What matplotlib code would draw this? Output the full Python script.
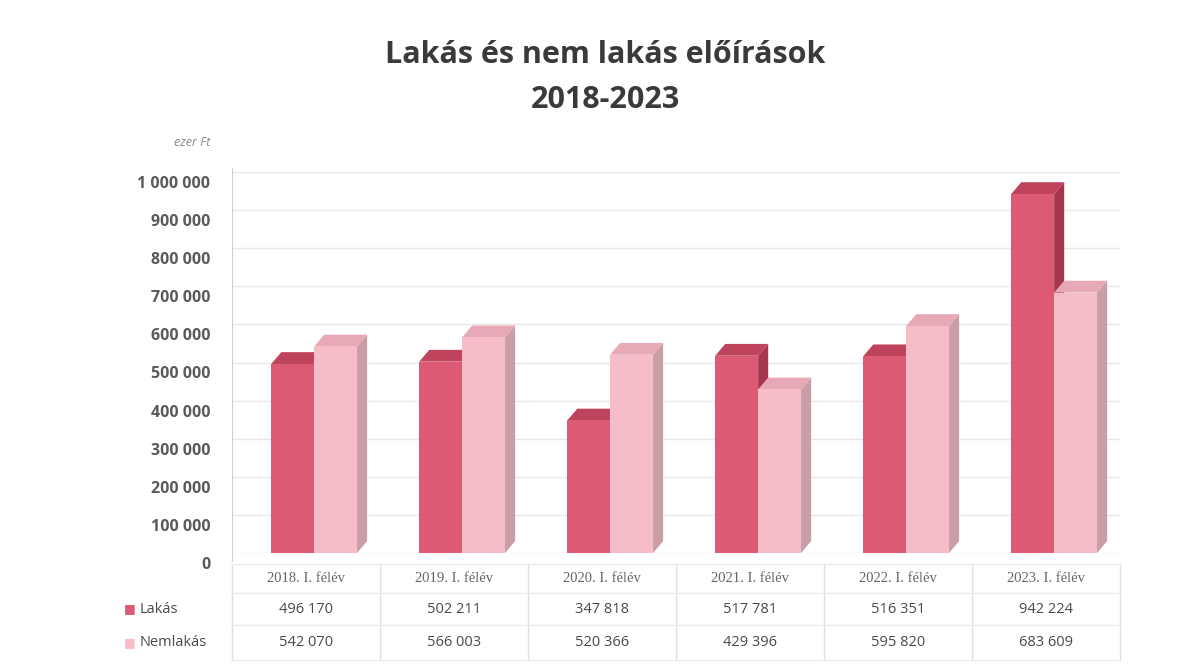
import matplotlib
matplotlib.use("Agg")
import matplotlib.pyplot as plt
import matplotlib.transforms as mtransforms
from matplotlib.patches import Polygon
import numpy as np

plt.rcParams['font.family'] = ['Open Sans', 'DejaVu Sans']

categories = ['2018. I. félév', '2019. I. félév', '2020. I. félév',
              '2021. I. félév', '2022. I. félév', '2023. I. félév']
lakas = [496170, 502211, 347818, 517781, 516351, 942224]
nemlakas = [542070, 566003, 520366, 429396, 595820, 683609]
series_names = ['Lakás', 'Nemlakás']
yticks = np.arange(0, 1000001, 100000)

# colours: front, top, side
col_lakas = ('#dc5a74', '#c0435e', '#a6354e')
col_nem = ('#f6bdc9', '#e8a9b6', '#c99ea7')

fig = plt.figure(figsize=(11.92, 6.68), dpi=100)
ax = fig.add_axes([232/1192, (668-553)/668, 888/1192, 381/668])

x = np.arange(len(categories))
w = 0.29
dx = 0.068      # fake depth in category units
dy = 31000      # fake depth in value units


def bar3d(xl, h, cols, z):
    xr = xl + w
    ax.add_patch(Polygon([(xr, 0), (xr+dx, dy), (xr+dx, h+dy), (xr, h)],
                         closed=True, fc=cols[2], ec='none', zorder=z, clip_on=False))
    ax.add_patch(Polygon([(xl, h), (xr, h), (xr+dx, h+dy), (xl+dx, h+dy)],
                         closed=True, fc=cols[1], ec='none', zorder=z, clip_on=False))
    ax.bar(xl, h, width=w, align='edge', color=cols[0], zorder=z+0.5, clip_on=False)


for i in range(len(categories)):
    bar3d(x[i] - 0.235, lakas[i], col_lakas, 3)
    bar3d(x[i] - 0.235 + w, nemlakas[i], col_nem, 4)

ax.set_xlim(-0.5, len(categories) - 0.5)
ax.set_ylim(0, 1000000)
ax.set_yticks(yticks)
ax.tick_params(axis='y', length=0, pad=15.5)
ax.set_yticklabels([f'{v:,}'.replace(',', ' ') for v in yticks],
                   fontsize=11.5, fontweight='bold', color='#5a5a5a')
off = mtransforms.ScaledTranslation(0, -10/100, fig.dpi_scale_trans)
for lbl in ax.get_yticklabels():
    lbl.set_transform(lbl.get_transform() + off)
ax.set_xticks([])
ax.grid(axis='y', color='#e8e8e8', linewidth=1, zorder=0)
for s in ['top', 'right', 'bottom']:
    ax.spines[s].set_visible(False)
ax.spines['left'].set_color('#d0d0d0')
ax.spines['left'].set_bounds(-20000, 1010000)

# data table below the plot
tr = mtransforms.blended_transform_factory(ax.transData, ax.transAxes)
ftr = mtransforms.blended_transform_factory(fig.transFigure, ax.transAxes)
row_y = [-0.066, -0.147, -0.236]
for i, c in enumerate(categories):
    ax.text(x[i], row_y[0], c, transform=tr, ha='center', va='center',
            fontsize=10.5, color='#666666', family=['Liberation Serif', 'DejaVu Serif'])
    ax.text(x[i], row_y[1], f'{lakas[i]:,}'.replace(',', ' '), transform=tr,
            ha='center', va='center', fontsize=10.5, color='#4a4a4a')
    ax.text(x[i], row_y[2], f'{nemlakas[i]:,}'.replace(',', ' '), transform=tr,
            ha='center', va='center', fontsize=10.5, color='#4a4a4a')
for b in np.arange(-0.5, len(categories), 1.0):
    ax.plot([b, b], [-0.03, -0.28], transform=tr, color='#e0e0e0', lw=1, clip_on=False)
for yy in [-0.03, -0.106, -0.19, -0.28]:
    ax.plot([-0.5, len(categories) - 0.5], [yy, yy], transform=tr,
            color='#ececec', lw=1, clip_on=False)

for ry, name, cols in zip(row_y[1:], series_names, [col_lakas, col_nem]):
    ax.text(124/1192, ry, '■', transform=ftr, ha='left', va='center',
            fontsize=9, color=cols[0], family='DejaVu Sans')
    ax.text(140/1192, ry, name, transform=ftr, ha='left', va='center',
            fontsize=10.5, color='#4a4a4a')

fig.text(192/1192, 1 - 143/668, 'ezer Ft', ha='center', va='center',
         fontsize=9, style='italic', color='#888888')
fig.text(605/1192, 1 - 55/668, 'Lakás és nem lakás előírások', ha='center',
         va='center', fontsize=22, fontweight='bold', color='#3a3a3a')
fig.text(605/1192, 1 - 100/668, '2018-2023', ha='center', va='center',
         fontsize=22, fontweight='bold', color='#3a3a3a')

fig.savefig('out.png', dpi=100)
